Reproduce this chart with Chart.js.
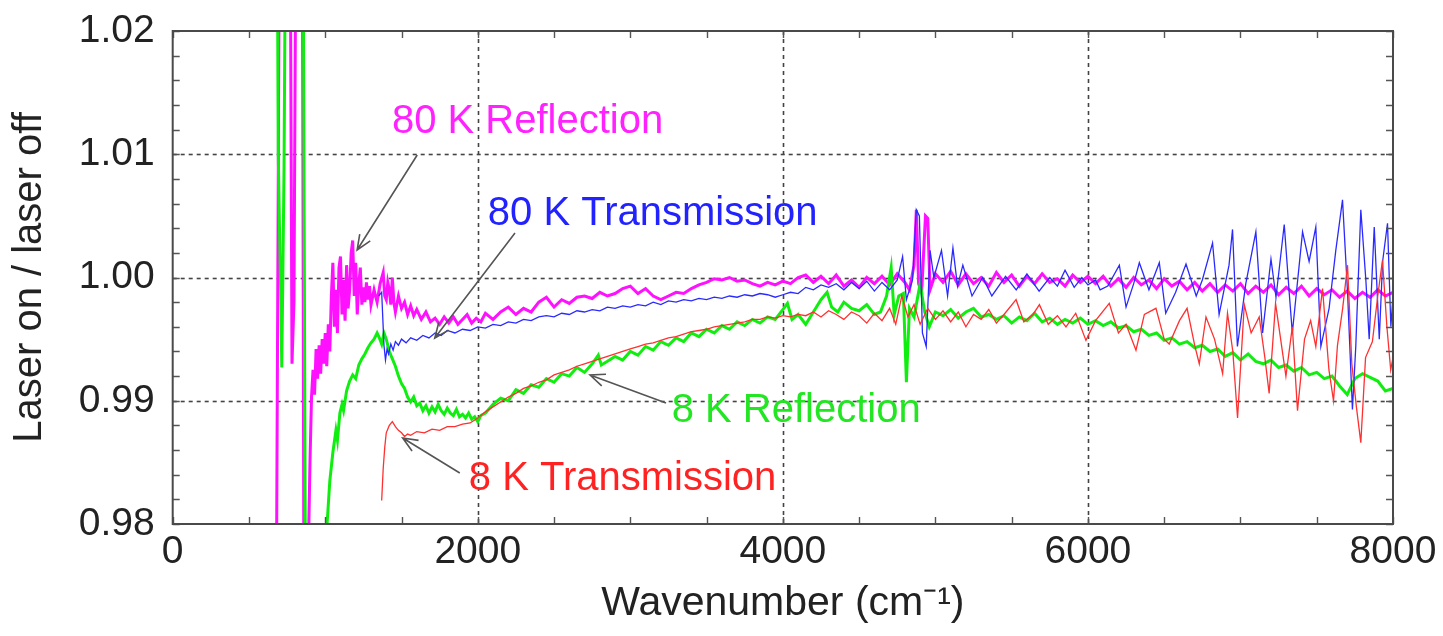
<!DOCTYPE html>
<html>
<head>
<meta charset="utf-8">
<script src="https://cdn.jsdelivr.net/npm/chart.js@4.4.1/dist/chart.umd.min.js"></script>
<style>
html,body{margin:0;padding:0;background:#fff;}
canvas{display:block;}
</style>
</head>
<body>
<canvas id="c" width="1443" height="636"></canvas>
<script>
// ---------------- DATA ----------------
// 80 K Reflection (magenta)
const r80_wn = [680,700,770,782,795,808,850,860,885,900,910,920,930,940,950,960,970,980,990,1000,1010,1020,1030,1040,1050,1060,1070,1080,1090,1100,1110,1120,1130,1140,1150,1160,1170,1180,1190,1200,1210,1220,1230,1240,1250,1260,1270,1280,1290,1300,1320,1340,1360,1380,1390,1400,1410,1420,1430,1440,1450,1460,1480,1500,1520,1540,1560,1580,1600,1630,1660,1690,1720,1750,1780,1810,1840,1870,1900,1930,1960,1990,2020,2050,2100,2150,2200,2250,2300,2350,2400,2450,2500,2550,2600,2650,2700,2750,2800,2850,2900,2950,3000,3050,3100,3150,3200,3250,3300,3350,3400,3450,3500,3550,3600,3650,3700,3750,3800,3850,3900,3950,4000,4050,4100,4150,4200,4250,4300,4350,4400,4450,4500,4550,4600,4650,4700,4750,4800,4830,4860,4875,4890,4910,4935,4950,4965,5000,5050,5100,5150,5200,5250,5300,5350,5400,5450,5500,5550,5600,5650,5700,5750,5800,5850,5900,5950,6000,6050,6100,6150,6200,6250,6300,6350,6400,6450,6500,6550,6600,6650,6700,6750,6800,6850,6900,6950,7000,7050,7100,7150,7200,7250,7300,7350,7400,7450,7500,7550,7600,7650,7700,7750,7800,7850,7900,7950,8000];
const r80_val = [0.9750,1.0300,1.0300,0.9930,0.9980,1.0300,1.0300,0.9750,0.9750,0.9850,0.9903,0.9925,0.9905,0.9942,0.9918,0.9945,0.9922,0.9950,0.9930,0.9955,0.9928,0.9962,0.9940,0.9985,1.0012,0.9960,0.9990,0.9955,1.0008,1.0017,0.9970,0.9998,0.9965,1.0010,0.9975,0.9990,1.0020,1.0030,0.9985,1.0012,0.9970,0.9995,1.0008,0.9978,0.9992,0.9980,0.9996,0.9982,0.9993,0.9978,0.9990,0.9980,0.9995,1.0004,0.9985,0.9982,0.9996,0.9990,0.9978,1.0000,0.9980,0.9972,0.9985,0.9975,0.9980,0.9970,0.9977,0.9969,0.9974,0.9966,0.9972,0.9964,0.9967,0.9962,0.9968,0.9963,0.9968,0.9962,0.9966,0.9970,0.9963,0.9967,0.9964,0.9971,0.9966,0.9972,0.9976,0.9970,0.9975,0.9972,0.9980,0.9984,0.9976,0.9982,0.9979,0.9984,0.9985,0.9983,0.9988,0.9985,0.9987,0.9991,0.9993,0.9987,0.9991,0.9985,0.9982,0.9985,0.9988,0.9987,0.9991,0.9994,0.9996,0.9999,0.9998,1.0000,0.9997,0.9998,0.9995,0.9993,0.9996,0.9994,0.9997,0.9995,1.0000,1.0002,0.9996,1.0001,0.9995,1.0002,0.9993,0.9998,0.9992,1.0000,0.9995,1.0001,0.9994,1.0003,0.9996,0.9990,1.0010,1.0055,0.9995,0.9988,1.0050,1.0048,0.9990,1.0003,0.9996,1.0005,0.9994,1.0003,0.9995,1.0000,0.9993,1.0004,0.9996,1.0002,0.9993,1.0001,0.9995,1.0003,0.9996,0.9999,0.9993,1.0002,0.9996,1.0001,0.9995,1.0001,0.9993,0.9999,0.9992,1.0000,0.9994,0.9998,0.9991,0.9999,0.9993,0.9997,0.9990,0.9996,0.9989,0.9995,0.9988,0.9994,0.9989,0.9995,0.9987,0.9993,0.9988,0.9994,0.9986,0.9992,0.9987,0.9993,0.9985,0.9991,0.9986,0.9990,0.9984,0.9989,0.9983,0.9988,0.9984,0.9990,0.9985,0.9988];

// 8 K Reflection (green)
const r8_wn = [685,692,700,708,715,722,730,740,780,855,870,990,1000,1012,1030,1050,1070,1080,1096,1110,1120,1140,1160,1180,1200,1220,1240,1260,1280,1300,1320,1340,1355,1370,1385,1400,1420,1440,1460,1480,1500,1520,1540,1560,1580,1600,1620,1640,1660,1680,1700,1720,1740,1760,1780,1800,1820,1840,1860,1880,1900,1920,1940,1960,1980,2000,2020,2050,2100,2150,2200,2250,2300,2350,2400,2450,2500,2550,2600,2650,2700,2750,2790,2810,2850,2900,2950,3000,3050,3100,3150,3200,3250,3300,3350,3400,3450,3500,3550,3600,3650,3700,3750,3800,3850,3900,3950,4000,4030,4060,4100,4150,4200,4250,4290,4320,4360,4400,4450,4500,4550,4600,4640,4680,4710,4730,4760,4790,4810,4830,4860,4900,4930,4960,5000,5050,5100,5150,5200,5250,5300,5350,5400,5450,5500,5550,5600,5650,5700,5750,5800,5850,5900,5950,6000,6050,6100,6150,6200,6250,6300,6350,6400,6450,6500,6550,6600,6650,6700,6750,6800,6850,6900,6950,7000,7050,7100,7150,7200,7250,7300,7350,7400,7450,7500,7550,7600,7650,7700,7750,7800,7850,7900,7950,8000];
const r8_val = [1.0300,1.0100,1.0040,0.9990,0.9927,1.0000,1.0090,1.0300,1.0300,1.0300,0.9750,0.9750,0.9780,0.9800,0.9835,0.9858,0.9876,0.9868,0.9890,0.9897,0.9892,0.9908,0.9916,0.9921,0.9918,0.9929,0.9934,0.9938,0.9943,0.9947,0.9950,0.9955,0.9951,0.9946,0.9955,0.9950,0.9940,0.9934,0.9928,0.9920,0.9914,0.9910,0.9903,0.9899,0.9903,0.9896,0.9898,0.9892,0.9896,0.9890,0.9895,0.9891,0.9897,0.9892,0.9889,0.9894,0.9890,0.9888,0.9893,0.9887,0.9889,0.9886,0.9890,0.9885,0.9887,0.9883,0.9888,0.9890,0.9897,0.9902,0.9900,0.9909,0.9906,0.9913,0.9911,0.9918,0.9915,0.9922,0.9920,0.9927,0.9923,0.9930,0.9937,0.9929,0.9932,0.9936,0.9933,0.9940,0.9937,0.9944,0.9941,0.9948,0.9945,0.9951,0.9948,0.9955,0.9952,0.9958,0.9955,0.9961,0.9958,0.9964,0.9961,0.9966,0.9963,0.9968,0.9966,0.9974,0.9979,0.9966,0.9970,0.9962,0.9972,0.9982,0.9988,0.9976,0.9972,0.9980,0.9975,0.9973,0.9978,0.9970,0.9972,0.9985,1.0008,0.9970,0.9985,0.9987,0.9915,0.9975,0.9968,0.9995,0.9972,0.9960,0.9972,0.9969,0.9974,0.9967,0.9972,0.9975,0.9968,0.9970,0.9966,0.9969,0.9963,0.9968,0.9965,0.9971,0.9964,0.9967,0.9962,0.9966,0.9963,0.9967,0.9962,0.9965,0.9961,0.9964,0.9959,0.9961,0.9956,0.9958,0.9953,0.9955,0.9949,0.9951,0.9946,0.9948,0.9943,0.9945,0.9940,0.9942,0.9936,0.9939,0.9933,0.9938,0.9932,0.9930,0.9933,0.9927,0.9929,0.9924,0.9927,0.9921,0.9923,0.9918,0.9920,0.9912,0.9905,0.9918,0.9922,0.9919,0.9916,0.9908,0.9910];

// 80 K Transmission (blue)
const t80_wn = [1350,1370,1385,1395,1405,1415,1430,1445,1460,1480,1500,1530,1560,1600,1640,1680,1720,1760,1800,1850,1900,1950,2000,2050,2100,2150,2200,2250,2300,2350,2400,2450,2500,2550,2600,2650,2700,2750,2800,2850,2900,2950,3000,3050,3100,3150,3200,3250,3300,3350,3400,3450,3500,3550,3600,3650,3700,3750,3800,3850,3900,3950,4000,4050,4100,4150,4200,4250,4300,4350,4400,4450,4500,4550,4600,4650,4700,4750,4785,4810,4850,4875,4895,4915,4940,4965,4990,5040,5080,5115,5145,5180,5240,5310,5370,5460,5530,5600,5680,5750,5800,5850,5910,5960,6000,6050,6080,6130,6206,6250,6300,6337,6400,6468,6510,6575,6643,6710,6750,6817,6860,6925,6948,6980,7035,7101,7145,7200,7233,7287,7320,7340,7407,7450,7494,7527,7581,7625,7669,7702,7734,7756,7789,7822,7844,7877,7910,7932,7964,7986,8000];
const t80_val = [0.9985,0.9988,0.9945,0.9933,0.9942,0.9938,0.9946,0.9941,0.9948,0.9945,0.9950,0.9947,0.9951,0.9949,0.9953,0.9951,0.9955,0.9953,0.9957,0.9955,0.9958,0.9957,0.9960,0.9959,0.9962,0.9961,0.9964,0.9963,0.9966,0.9965,0.9968,0.9969,0.9968,0.9971,0.9970,0.9973,0.9972,0.9974,0.9973,0.9976,0.9975,0.9977,0.9976,0.9978,0.9977,0.9980,0.9978,0.9981,0.9980,0.9982,0.9981,0.9983,0.9982,0.9984,0.9983,0.9985,0.9984,0.9986,0.9985,0.9987,0.9986,0.9984,0.9986,0.9988,0.9987,0.9992,0.9990,0.9994,0.9992,0.9995,0.9990,0.9996,0.9991,0.9997,0.9989,0.9996,0.9990,0.9998,1.0017,0.9982,0.9998,1.0055,1.0050,0.9955,0.9944,1.0022,1.0000,1.0022,0.9985,1.0024,0.9993,1.0010,0.9985,1.0000,0.9985,1.0001,0.9990,1.0003,0.9989,1.0000,0.9993,1.0006,0.9992,1.0000,0.9994,0.9998,0.9990,0.9993,1.0010,0.9976,0.9995,1.0012,0.9990,1.0012,0.9971,0.9988,1.0011,0.9985,0.9998,1.0028,0.9970,1.0010,1.0039,0.9944,0.9995,1.0037,0.9955,1.0015,0.9984,1.0043,0.9987,0.9955,1.0037,1.0013,1.0041,0.9944,0.9975,1.0022,1.0063,0.9988,0.9893,0.9944,1.0055,0.9998,0.9950,1.0041,0.9950,1.0013,1.0044,0.9960,0.9985];

// 8 K Transmission (red)
const t8_wn = [1370,1380,1390,1400,1420,1440,1460,1480,1500,1520,1540,1560,1600,1650,1700,1750,1800,1850,1900,1950,2000,2050,2100,2150,2200,2250,2300,2350,2400,2450,2500,2550,2600,2650,2700,2750,2800,2850,2900,2950,3000,3050,3100,3150,3200,3250,3300,3350,3400,3450,3500,3550,3600,3650,3700,3750,3800,3850,3900,3950,4000,4050,4100,4150,4200,4250,4300,4350,4400,4450,4500,4550,4600,4650,4700,4740,4780,4820,4860,4900,4950,5000,5050,5100,5150,5200,5250,5300,5350,5400,5450,5529,5580,5640,5682,5740,5800,5856,5920,5987,6050,6140,6200,6250,6315,6370,6446,6500,6533,6600,6650,6700,6730,6774,6830,6883,6915,6950,6981,7025,7070,7123,7160,7188,7230,7298,7340,7374,7420,7460,7494,7538,7580,7610,7636,7670,7702,7730,7760,7789,7820,7865,7900,7931,7960,7985,8000];
const t8_val = [0.9819,0.9845,0.9862,0.9874,0.9880,0.9883,0.9879,0.9876,0.9874,0.9871,0.9873,0.9872,0.9875,0.9874,0.9877,0.9876,0.9879,0.9879,0.9881,0.9882,0.9886,0.9891,0.9895,0.9899,0.9903,0.9906,0.9910,0.9912,0.9915,0.9917,0.9921,0.9923,0.9925,0.9928,0.9930,0.9932,0.9934,0.9936,0.9938,0.9940,0.9942,0.9944,0.9946,0.9947,0.9949,0.9951,0.9952,0.9954,0.9956,0.9957,0.9958,0.9960,0.9961,0.9962,0.9963,0.9964,0.9966,0.9966,0.9968,0.9967,0.9969,0.9968,0.9970,0.9969,0.9972,0.9968,0.9973,0.9970,0.9966,0.9972,0.9969,0.9963,0.9971,0.9965,0.9975,0.9962,0.9985,0.9968,0.9978,0.9962,0.9975,0.9966,0.9973,0.9964,0.9972,0.9960,0.9970,0.9966,0.9974,0.9963,0.9970,0.9982,0.9964,0.9970,0.9978,0.9962,0.9969,0.9960,0.9971,0.9949,0.9965,0.9979,0.9955,0.9962,0.9941,0.9970,0.9975,0.9950,0.9946,0.9965,0.9975,0.9945,0.9930,0.9968,0.9950,0.9922,0.9971,0.9940,0.9886,0.9978,0.9955,0.9968,0.9935,0.9906,0.9979,0.9920,0.9960,0.9892,0.9950,0.9965,0.9944,0.9991,0.9925,0.9900,0.9945,0.9975,1.0010,0.9930,0.9895,0.9866,0.9935,0.9948,0.9985,1.0014,0.9960,0.9925,0.9935];

// Axes
const xTickValues = [0, 2000, 4000, 6000, 8000];
const xTickLabels = ['0', '2000', '4000', '6000', '8000'];
const yTickValues = [0.98, 0.99, 1.00, 1.01, 1.02];
const yTickLabels = ['0.98', '0.99', '1.00', '1.01', '1.02'];
const xMinorStep = 500;
const yMinorCount = 20; // 0.002 steps between 0.98 and 1.02

// Annotations (text anchor = left baseline, arrows tail -> head, all in data units)
const annoText  = ['80 K Reflection', '80 K Transmission', '8 K Reflection', '8 K Transmission'];
const annoColor = ['#ff22ff', '#2222ff', '#22e622', '#ff2222'];
const annoX = [1437, 2066, 3271, 1941];
const annoY = [1.01172, 1.00426, 0.98828, 0.98276];
const arrowFromX = [1603, 2244, 3234, 1882];
const arrowFromY = [1.00994, 1.00361, 0.98982, 0.98414];
const arrowToX = [1209, 1718, 2736, 1508];
const arrowToY = [1.00223, 0.99509, 0.99209, 0.98698];

// ---------------- CHART ----------------
const FONT = "'Liberation Sans', Arial, Helvetica, sans-serif";
Chart.defaults.font.family = FONT;
Chart.defaults.color = '#222';

const toPts = (xs, ys) => xs.map((x, i) => ({x: x, y: ys[i]}));

const framePlugin = {
  id: 'frame',
  beforeDatasetsDraw(chart) {
    const {ctx, chartArea: a, scales: {x, y}} = chart;
    ctx.save();
    ctx.strokeStyle = '#444';
    ctx.lineWidth = 1.6;
    ctx.setLineDash([4, 4]);
    xTickValues.forEach(v => {
      const px = Math.round(x.getPixelForValue(v)) + 0.5;
      if (px < a.left + 3 || px > a.right - 3) return;
      ctx.beginPath(); ctx.moveTo(px, a.top); ctx.lineTo(px, a.bottom); ctx.stroke();
    });
    yTickValues.forEach(v => {
      const py = Math.round(y.getPixelForValue(v)) + 0.5;
      if (py < a.top + 3 || py > a.bottom - 3) return;
      ctx.beginPath(); ctx.moveTo(a.left, py); ctx.lineTo(a.right, py); ctx.stroke();
    });
    ctx.restore();
  },
  afterDatasetsDraw(chart) {
    const {ctx, chartArea: a, scales: {x, y}} = chart;
    ctx.save();
    // annotations
    ctx.font = '40px ' + FONT;
    ctx.textBaseline = 'alphabetic';
    ctx.textAlign = 'left';
    annoText.forEach((t, i) => {
      ctx.fillStyle = annoColor[i];
      ctx.fillText(t, x.getPixelForValue(annoX[i]), y.getPixelForValue(annoY[i]));
    });
    ctx.strokeStyle = '#555';
    ctx.lineWidth = 1.6;
    arrowFromX.forEach((fx, i) => {
      const x1 = x.getPixelForValue(fx), y1 = y.getPixelForValue(arrowFromY[i]);
      const x2 = x.getPixelForValue(arrowToX[i]), y2 = y.getPixelForValue(arrowToY[i]);
      const ang = Math.atan2(y2 - y1, x2 - x1);
      const hl = 16, ha = 0.4;
      ctx.beginPath();
      ctx.moveTo(x1, y1); ctx.lineTo(x2, y2);
      ctx.moveTo(x2 - hl * Math.cos(ang - ha), y2 - hl * Math.sin(ang - ha));
      ctx.lineTo(x2, y2);
      ctx.lineTo(x2 - hl * Math.cos(ang + ha), y2 - hl * Math.sin(ang + ha));
      ctx.stroke();
    });
    // minor / major ticks, inward on all sides
    ctx.strokeStyle = '#555';
    ctx.lineWidth = 1.4;
    const tl = 7;
    for (let v = x.min; v <= x.max; v += xMinorStep) {
      const px = Math.round(x.getPixelForValue(v)) + 0.5;
      ctx.beginPath();
      ctx.moveTo(px, a.bottom); ctx.lineTo(px, a.bottom - tl);
      ctx.moveTo(px, a.top); ctx.lineTo(px, a.top + tl);
      ctx.stroke();
    }
    for (let k = 0; k <= yMinorCount; k++) {
      const v = y.min + (y.max - y.min) * k / yMinorCount;
      const py = Math.round(y.getPixelForValue(v)) + 0.5;
      ctx.beginPath();
      ctx.moveTo(a.left, py); ctx.lineTo(a.left + tl, py);
      ctx.moveTo(a.right, py); ctx.lineTo(a.right - tl, py);
      ctx.stroke();
    }
    // frame
    ctx.strokeStyle = '#4a4a4a';
    ctx.lineWidth = 2;
    ctx.strokeRect(a.left, a.top, a.right - a.left, a.bottom - a.top);
    ctx.restore();
  }
};

new Chart(document.getElementById('c'), {
  type: 'scatter',
  data: {
    datasets: [
      {label: '8 K Transmission', data: toPts(t8_wn, t8_val), borderColor: '#ff3030', borderWidth: 1.3},
      {label: '80 K Transmission', data: toPts(t80_wn, t80_val), borderColor: '#2a2aff', borderWidth: 1.3},
      {label: '8 K Reflection', data: toPts(r8_wn, r8_val), borderColor: '#10ee10', borderWidth: 3},
      {label: '80 K Reflection', data: toPts(r80_wn, r80_val), borderColor: '#ff10ff', borderWidth: 3}
    ].map(d => Object.assign(d, {showLine: true, pointRadius: 0, pointHoverRadius: 0, tension: 0, fill: false}))
  },
  options: {
    responsive: false,
    animation: false,
    devicePixelRatio: 1,
    events: [],
    layout: {padding: {top: 31, right: 50, left: 0, bottom: 0}},
    plugins: {legend: {display: false}, tooltip: {enabled: false}},
    scales: {
      x: {
        type: 'linear', min: 0, max: 8000,
        afterBuildTicks: s => { s.ticks = xTickValues.map(v => ({value: v})); },
        ticks: {
          font: {size: 39}, color: '#222', padding: 5, maxRotation: 0,
          callback: (v, i) => xTickLabels[xTickValues.indexOf(v)]
        },
        grid: {display: false, drawTicks: false},
        border: {display: false},
        title: {display: true, text: 'Wavenumber (cm\u207B\u00B9)', font: {size: 41}, color: '#222', padding: {top: 0, bottom: 8}},
        afterFit: s => { s.height = 112; s.paddingLeft = 0; s.paddingRight = 0; }
      },
      y: {
        type: 'linear', min: 0.98, max: 1.02,
        afterBuildTicks: s => { s.ticks = yTickValues.map(v => ({value: v})); },
        ticks: {
          font: {size: 39}, color: '#222', padding: 18,
          callback: (v, i) => yTickLabels[i]
        },
        grid: {display: false, drawTicks: false},
        border: {display: false},
        title: {display: true, text: 'Laser on / laser off', font: {size: 40}, color: '#222', padding: {top: 6, bottom: 0}},
        afterFit: s => { s.width = 172.7; s.paddingTop = 0; s.paddingBottom = 0; }
      }
    }
  },
  plugins: [framePlugin]
});
</script>
</body>
</html>
